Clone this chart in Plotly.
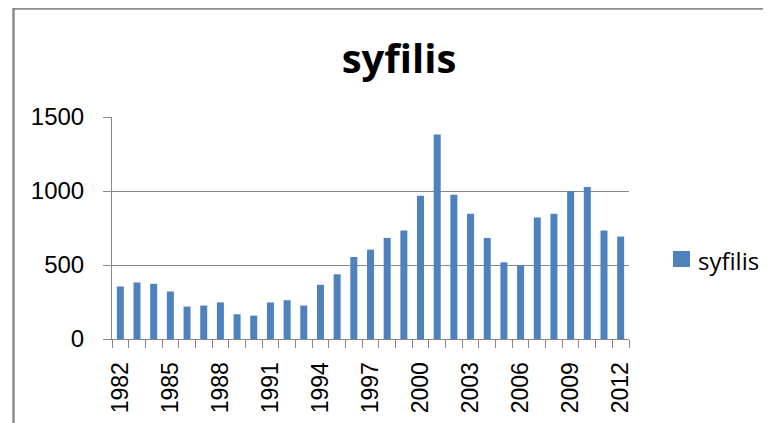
import plotly.graph_objects as go

years = list(range(1982, 2013))
cases = [355, 382, 373, 321, 219, 226, 247, 167, 158, 247, 262, 226, 366, 437, 554,
         604, 683, 733, 968, 1382, 975, 846, 683, 518, 500, 821, 846, 1000, 1027, 733, 692]
series_name = "syfilis"
title_text = "syfilis"
y_ticks = [0, 500, 1000, 1500]
bar_color = "#4F81BD"

# figure is drawn 8px in from the page corner (default body margin)
W, H = 763, 415
L, R, T, B = 104, 142, 109, 84
pw = W - L - R
ph = H - T - B


def px_x(x):
    return (x - L) / pw


def px_y(y):
    return (T + ph - y) / ph


fig = go.Figure()
fig.add_trace(go.Bar(x=years, y=cases, name=series_name, marker_color=bar_color,
                     marker_line_width=0, showlegend=False))

fig.update_layout(
    width=W, height=H,
    margin=dict(l=L, r=R, t=T, b=B, autoexpand=False),
    paper_bgcolor="white", plot_bgcolor="white",
    bargap=0.58,
    title=dict(text=title_text, x=391 / W, xanchor="center", xref="container",
               y=1 - 51 / H, yanchor="middle", yref="container",
               font=dict(family="Open Sans", size=40, color="black", weight="bold")),
    font=dict(family="Liberation Sans", color="black"),
    showlegend=False,
)

fig.update_xaxes(
    range=[1981.5, 2012.5], tickmode="linear", tick0=1982, dtick=3,
    tickangle=-90, tickfont=dict(size=23, family="Liberation Sans", color="black"),
    ticks="", showgrid=False, zeroline=False, automargin=False,
    showline=True, linecolor="#878787", linewidth=1,
    minor=dict(ticks="outside", tick0=1981.5, dtick=1, ticklen=8, tickcolor="#878787", showgrid=False),
    ticklabelstandoff=13,
)
fig.update_yaxes(
    range=[0, 1500], tickvals=y_ticks, automargin=False,
    tickfont=dict(size=24, family="Liberation Sans", color="black"),
    ticks="outside", ticklen=8, tickcolor="#878787",
    showgrid=True, gridcolor="#878787", gridwidth=1,
    zeroline=False, showline=True, linecolor="#878787", linewidth=1,
    ticklabelstandoff=14,
)

# chart border
fig.add_shape(type="rect", xref="paper", yref="paper",
              x0=px_x(5.5), x1=px_x(790), y0=px_y(440), y1=px_y(0.5),
              line=dict(color="#8c8c8c", width=2.5), fillcolor="rgba(0,0,0,0)", layer="below")

# legend (swatch + label)
fig.add_shape(type="rect", xref="paper", yref="paper",
              x0=px_x(665), x1=px_x(682), y0=px_y(259), y1=px_y(243),
              line=dict(width=0), fillcolor=bar_color)
fig.add_annotation(text=series_name, xref="paper", yref="paper",
                   x=px_x(688), y=px_y(252), xanchor="left", yanchor="middle",
                   showarrow=False,
                   font=dict(family="Open Sans", size=24, color="black"))

fig.write_html("out.html")
